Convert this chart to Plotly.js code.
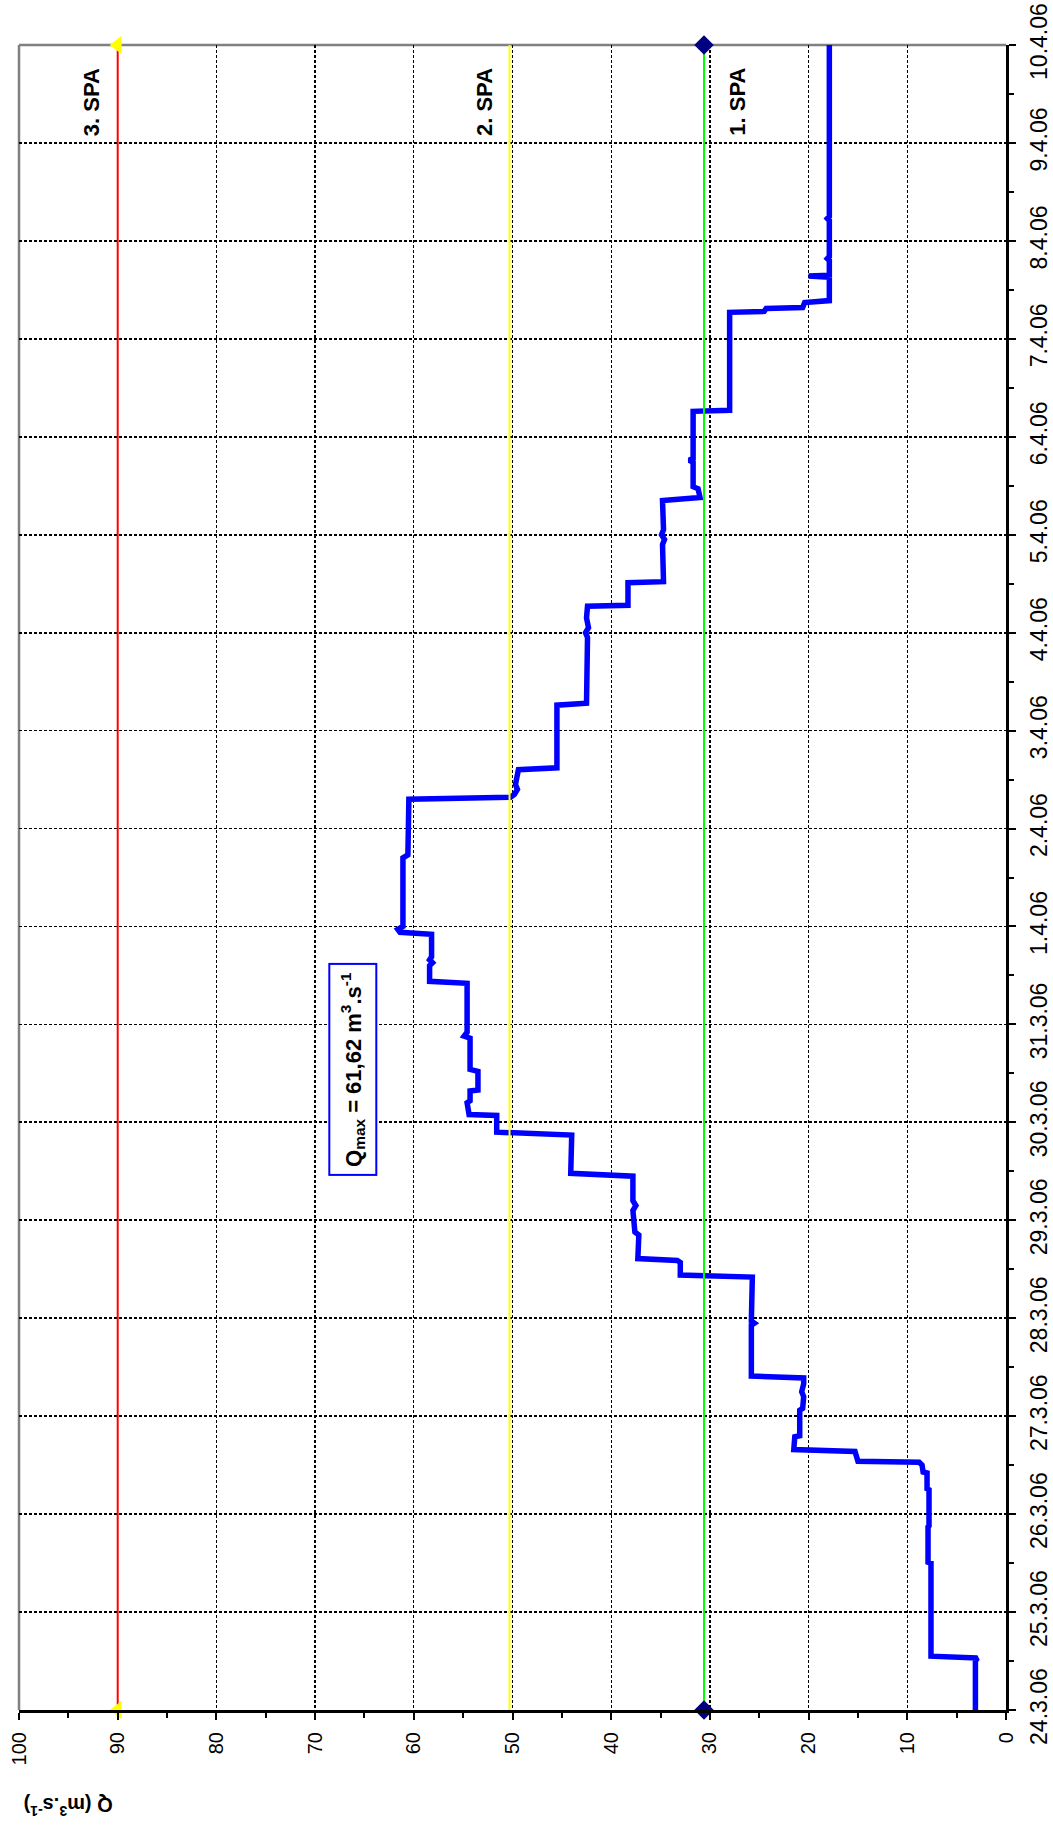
<!DOCTYPE html>
<html>
<head>
<meta charset="utf-8">
<script src="https://cdn.plot.ly/plotly-3.0.1.min.js"></script>
<style>
  html, body { margin: 0; padding: 0; background: #ffffff; }
  #chart { width: 1053px; height: 1829px; }
</style>
</head>
<body>
<div id="chart"></div>
<script>
// ---- Data (discharge Q in m3/s over time) ----
const flowTimes = [
  '2006-03-24 00:00','2006-03-24 12:00','2006-03-24 12:43','2006-03-24 13:12',
  '2006-03-25 12:00','2006-03-25 12:14','2006-03-25 20:53','2006-03-25 21:07',
  '2006-03-26 06:00','2006-03-26 06:14','2006-03-26 10:05','2006-03-26 10:19',
  '2006-03-26 12:00','2006-03-26 12:43','2006-03-26 12:58','2006-03-26 15:22',
  '2006-03-26 15:50','2006-03-26 18:58','2006-03-26 19:12','2006-03-27 01:26',
  '2006-03-27 01:55','2006-03-27 04:48','2006-03-27 06:00','2006-03-27 07:55',
  '2006-03-27 09:22','2006-03-27 09:50','2006-03-27 22:19','2006-03-27 22:48',
  '2006-03-27 23:17','2006-03-28 10:05','2006-03-28 10:34','2006-03-28 13:41',
  '2006-03-28 14:10','2006-03-28 14:38','2006-03-28 20:24','2006-03-28 21:07',
  '2006-03-29 02:24','2006-03-29 03:36','2006-03-29 04:48','2006-03-29 10:48',
  '2006-03-29 11:31','2006-03-29 20:53','2006-03-29 21:36','2006-03-30 01:41',
  '2006-03-30 01:55','2006-03-30 04:48','2006-03-30 05:17','2006-03-30 07:41',
  '2006-03-30 07:55','2006-03-30 12:29','2006-03-30 12:58','2006-03-30 20:38',
  '2006-03-30 21:07','2006-03-30 22:05','2006-03-31 10:05','2006-03-31 10:34',
  '2006-03-31 14:24','2006-03-31 15:07','2006-03-31 15:50','2006-03-31 16:34',
  '2006-03-31 22:05','2006-03-31 22:34','2006-03-31 23:17','2006-04-01 00:00',
  '2006-04-01 16:48','2006-04-01 17:31','2006-04-02 07:12','2006-04-02 07:41',
  '2006-04-02 08:24','2006-04-02 09:36','2006-04-02 10:48','2006-04-02 13:12',
  '2006-04-02 14:24','2006-04-02 14:53','2006-04-03 06:14','2006-04-03 06:43',
  '2006-04-03 22:48','2006-04-04 00:00','2006-04-04 01:12','2006-04-04 03:36',
  '2006-04-04 06:29','2006-04-04 06:43','2006-04-04 12:14','2006-04-04 12:29',
  '2006-04-04 21:36','2006-04-04 22:48','2006-04-05 00:00','2006-04-05 01:12',
  '2006-04-05 08:24','2006-04-05 09:07','2006-04-05 11:17','2006-04-05 11:46',
  '2006-04-05 17:46','2006-04-05 18:14','2006-04-05 18:43','2006-04-06 06:14',
  '2006-04-06 06:29','2006-04-07 06:29','2006-04-07 06:43','2006-04-07 07:26',
  '2006-04-07 07:41','2006-04-07 08:53','2006-04-07 09:22','2006-04-07 15:07',
  '2006-04-07 15:22','2006-04-07 15:36','2006-04-07 19:12','2006-04-07 19:40',
  '2006-04-07 20:10','2006-04-08 05:00','2006-04-08 05:30','2006-04-08 06:00',
  '2006-04-09 00:00','2006-04-10 00:00'
];
const flowValues = [
  3.1, 3.1, 2.9, 7.6,
  7.6, 7.9, 7.9, 7.8,
  7.8, 8.0, 8.0, 8.4,
  8.5, 8.8, 15.0, 15.3,
  21.5, 21.4, 20.9, 20.9,
  20.6, 20.5, 20.7, 20.5,
  20.5, 25.8, 25.8, 25.5,
  25.8, 25.7, 33.0, 33.0,
  33.3, 37.3, 37.2, 37.6,
  37.8, 37.5, 37.8, 37.8,
  44.1, 44.0, 51.6, 51.6,
  54.4, 54.6, 54.3, 54.3,
  53.5, 53.5, 54.3, 54.3,
  54.9, 54.6, 54.6, 58.4,
  58.4, 58.1, 58.4, 58.2,
  58.2, 61.4, 61.62, 61.1,
  61.1, 60.6, 60.5, 50.2,
  49.8, 49.5, 49.7, 49.5,
  49.4, 45.5, 45.5, 42.5,
  42.4, 42.6, 42.3, 42.5,
  42.4, 38.3, 38.3, 34.7,
  34.8, 34.6, 34.9, 34.7,
  34.8, 31.0, 31.2, 31.7,
  31.7, 32.1, 31.7, 31.7,
  28.0, 28.0, 24.5, 24.3,
  20.6, 20.4, 17.9, 17.9,
  20.0, 17.9, 17.9, 18.1,
  17.9, 17.9, 18.1, 17.9,
  17.9, 17.9
];

// Flood activity levels (SPA)
const spaNames  = ['1. SPA', '2. SPA', '3. SPA'];
const spaLevels = [30.6, 50.3, 90];

const periodStart = '2006-03-24 00:00';
const periodEnd   = '2006-04-10 00:00';

const qTickValues = [0, 10, 20, 30, 40, 50, 60, 70, 80, 90, 100];
const qTickLabels = ['0', '10', '20', '30', '40', '50', '60', '70', '80', '90', '100'];

const qMaxText = '<b>Q<sub>max</sub> = 61,62 m<sup>3</sup>.s<sup>-1</sup></b>';
const qAxisTitle = '<b>Q (m<sup>3</sup>.s<sup>-1</sup>)</b>';

// ---- Traces ----
const traces = [];

traces.push({
  type: 'scatter', mode: 'lines',
  x: flowValues, y: flowTimes,
  line: { color: '#0000FF', width: 5.5, shape: 'linear' },
  hoverinfo: 'skip', showlegend: false
});

// 1. SPA (green, navy diamonds)
traces.push({
  type: 'scatter', mode: 'lines+markers',
  x: [spaLevels[0], spaLevels[0]], y: [periodStart, periodEnd],
  line: { color: '#00FF00', width: 2 },
  marker: { symbol: 'diamond', size: 15, color: '#000080' },
  cliponaxis: false, showlegend: false, hoverinfo: 'skip'
});
// 2. SPA (yellow)
traces.push({
  type: 'scatter', mode: 'lines',
  x: [spaLevels[1], spaLevels[1]], y: [periodStart, periodEnd],
  line: { color: '#FFFF00', width: 2 },
  cliponaxis: false, showlegend: false, hoverinfo: 'skip'
});
// 3. SPA (red, yellow triangles)
traces.push({
  type: 'scatter', mode: 'lines+markers',
  x: [spaLevels[2], spaLevels[2]], y: [periodStart, periodEnd],
  line: { color: '#FF0000', width: 2 },
  marker: { symbol: 'triangle-left', size: 16, color: '#FFFF00' },
  cliponaxis: false, showlegend: false, hoverinfo: 'skip'
});

const boldFont = { family: 'Liberation Sans, Arial, sans-serif', size: 22, color: '#000000' };

const annotations = [
  { x: 27.2, y: '2006-04-09 10:00', text: '<b>' + spaNames[0] + '</b>' },
  { x: 52.9, y: '2006-04-09 10:00', text: '<b>' + spaNames[1] + '</b>' },
  { x: 92.7, y: '2006-04-09 10:00', text: '<b>' + spaNames[2] + '</b>' }
].map(a => Object.assign(a, {
  xref: 'x', yref: 'y', showarrow: false, textangle: -90,
  xanchor: 'center', yanchor: 'middle', font: boldFont
}));

annotations.push({
  x: 66.2, y: '2006-03-30 13:00', xref: 'x', yref: 'y',
  text: qMaxText, showarrow: false, textangle: -90,
  xanchor: 'center', yanchor: 'middle',
  font: { family: 'Liberation Sans, Arial, sans-serif', size: 22, color: '#000000' },
  bordercolor: '#0000FF', borderwidth: 2, borderpad: 7, bgcolor: '#FFFFFF'
});

annotations.push({
  x: 0.05, y: -0.058, xref: 'paper', yref: 'paper',
  text: qAxisTitle, showarrow: false, textangle: 180,
  xanchor: 'center', yanchor: 'middle',
  font: { family: 'Liberation Sans, Arial, sans-serif', size: 20, color: '#000000' }
});

const layout = {
  width: 1053, height: 1829,
  margin: { l: 19, r: 47, t: 45, b: 119, pad: 0 },
  paper_bgcolor: '#FFFFFF', plot_bgcolor: '#FFFFFF',
  showlegend: false,
  xaxis: {
    range: [100, 0], autorange: false,
    tickmode: 'array', tickvals: qTickValues, ticktext: qTickLabels,
    tickangle: -90,
    tickfont: { family: 'Liberation Sans, Arial, sans-serif', size: 20, color: '#000000' },
    ticks: 'outside', ticklen: 7, tickwidth: 2, tickcolor: '#000000',
    ticklabelstandoff: 4,
    minor: { dtick: 5, tick0: 0, ticks: 'outside', ticklen: 5, tickwidth: 2, tickcolor: '#000000', showgrid: false },
    showline: true, linecolor: '#000000', linewidth: 3,
    showgrid: true, gridcolor: '#000000', gridwidth: 1.3, griddash: '3px,2px',
    zeroline: false, fixedrange: true
  },
  yaxis: {
    type: 'date', side: 'right',
    range: [periodStart, periodEnd], autorange: false,
    dtick: 86400000, tick0: periodStart,
    tickformat: '%-d.%-m.%y',
    tickangle: -90,
    tickfont: { family: 'Liberation Sans Narrow, Arial Narrow, Liberation Sans, sans-serif', size: 23, color: '#000000' },
    ticks: 'outside', ticklen: 7, tickwidth: 2, tickcolor: '#000000',
    ticklabelstandoff: 3,
    minor: { dtick: 43200000, ticks: 'outside', ticklen: 5, tickwidth: 2, tickcolor: '#000000', showgrid: false },
    showline: true, linecolor: '#000000', linewidth: 3,
    showgrid: true, gridcolor: '#000000', gridwidth: 1.8, griddash: '3px,2px',
    zeroline: false, fixedrange: true
  },
  shapes: [
    { type: 'line', xref: 'paper', yref: 'paper', x0: 0, x1: 1, y0: 1, y1: 1,
      line: { color: '#808080', width: 2.5 }, layer: 'between' },
    { type: 'line', xref: 'paper', yref: 'paper', x0: 0, x1: 0, y0: 0, y1: 1,
      line: { color: '#808080', width: 2.5 }, layer: 'between' }
  ],
  annotations: annotations
};

Plotly.newPlot('chart', traces, layout, { displayModeBar: false, staticPlot: true });
</script>
</body>
</html>
